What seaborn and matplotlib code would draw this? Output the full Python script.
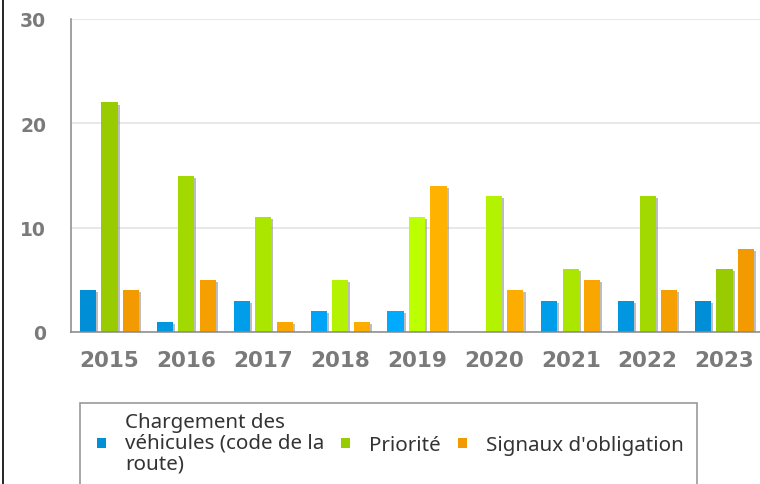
import matplotlib
matplotlib.use("Agg")
import matplotlib.pyplot as plt
import matplotlib.patheffects as pe
from matplotlib.colors import to_rgb
from matplotlib.lines import Line2D
from matplotlib.patches import Patch, Rectangle
import numpy as np
import pandas as pd
import seaborn as sns

# Data
years = ['2015', '2016', '2017', '2018', '2019', '2020', '2021', '2022', '2023']
chargement = [4, 1, 3, 2, 2, 0, 3, 3, 3]
priorite = [22, 15, 11, 5, 11, 13, 6, 13, 6]
signaux = [4, 5, 1, 1, 14, 4, 5, 4, 8]
series = ['Chargement des véhicules (code de la route)', 'Priorité', "Signaux d'obligation"]
legend_labels = ['Chargement des\nvéhicules (code de la\nroute)', 'Priorité', "Signaux d'obligation"]

df = pd.DataFrame({
    'year': years * 3,
    'serie': [series[0]] * 9 + [series[1]] * 9 + [series[2]] * 9,
    'value': chargement + priorite + signaux,
})

# colours: bright in the middle years, darker towards the ends
light = ['#00aaff', '#bbff00', '#ffb300']
dark = ['#008fd6', '#99cc00', '#f29a00']
legend_colors = ['#0090d8', '#99cc00', '#f29a00']

sns.set_style('white')
plt.rcParams['font.family'] = ['DejaVu Sans']

fig = plt.figure(figsize=(7.6, 4.85), dpi=100)
ax = fig.add_axes([71 / 760, 1 - 333 / 485, 692 / 760, 313 / 485])

sns.barplot(data=df, x='year', y='value', hue='serie', hue_order=series,
            palette=light, width=0.84, gap=0.25, errorbar=None,
            legend=False, ax=ax)

shadow = [pe.SimplePatchShadow(offset=(1.5, -1.5), shadow_rgbFace='#888888', alpha=0.55), pe.Normal()]
for j, cont in enumerate(ax.containers):
    for i, bar in enumerate(cont):
        t = 1 - abs(i - 4) / 4
        c = np.array(to_rgb(dark[j])) * (1 - t) + np.array(to_rgb(light[j])) * t
        bar.set_facecolor(c)
        bar.set_edgecolor('none')
        bar.set_path_effects(shadow)

ax.set_xlim(-0.5, 8.5)
ax.set_ylim(0, 30)
ax.set_yticks([0, 10, 20, 30])
ax.set_xticks(np.arange(-0.5, 9, 1), minor=True)
ax.yaxis.grid(True, color='#e6e6e6', lw=1.3)
ax.set_axisbelow(True)
ax.set_xlabel('')
ax.set_ylabel('')

for side in ['top', 'right']:
    ax.spines[side].set_visible(False)
for side in ['left', 'bottom']:
    ax.spines[side].set_color('#888888')
    ax.spines[side].set_linewidth(1.1)

ax.tick_params(axis='x', which='major', length=0, pad=13, labelsize=15.5, labelcolor='#7a7a7a')
ax.tick_params(axis='x', which='minor', length=6.5, width=1.1, color='#888888', direction='out')
ax.tick_params(axis='y', length=8, width=1.1, color='#888888', pad=10, labelsize=13.5, labelcolor='#7a7a7a', direction='out')
for lab in ax.get_xticklabels() + ax.get_yticklabels():
    lab.set_fontweight('bold')

# legend
handles = [Patch(facecolor=c, edgecolor='none') for c in legend_colors]
leg = ax.legend(handles, legend_labels, ncol=3, loc='center left',
                bbox_to_anchor=(97 / 760, 1 - 444 / 485), bbox_transform=fig.transFigure,
                frameon=False, borderpad=0, borderaxespad=0,
                prop={'family': 'Noto Sans', 'size': 14.8}, labelcolor='#333333',
                handlelength=0.42, handleheight=0.42, handletextpad=0.95,
                columnspacing=0.82)
for txt in leg.get_texts():
    txt.set_linespacing(1.05)
fig.add_artist(Rectangle((80 / 760, -0.05), 617 / 760, 1 - 404 / 485 + 0.05,
                         transform=fig.transFigure, fill=False,
                         edgecolor='#999999', lw=1.2))

# left border of the frame
fig.add_artist(Line2D([3.5 / 760, 3.5 / 760], [0, 1], color='black', lw=1.2,
                      transform=fig.transFigure))

fig.savefig('out.png', dpi=100)
